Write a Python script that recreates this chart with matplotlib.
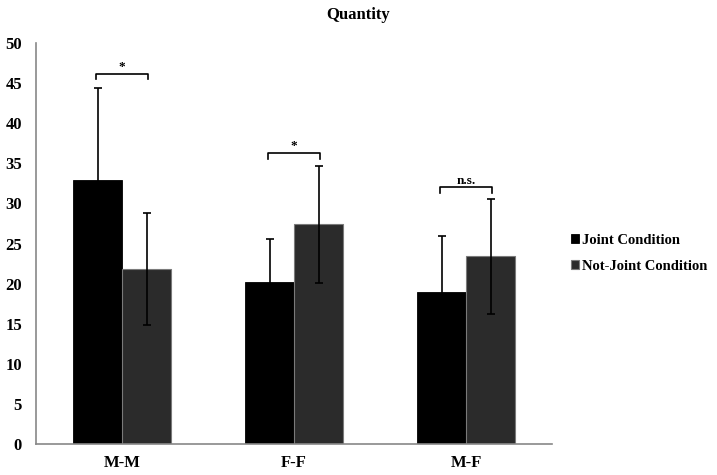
import matplotlib.pyplot as plt
import numpy as np

plt.rcParams['font.family'] = ['Liberation Serif', 'DejaVu Serif']
plt.rcParams['font.weight'] = 'bold'

# data
groups = ['M-M', 'F-F', 'M-F']
joint = [32.9, 20.2, 18.95]
joint_err = [11.5, 5.4, 7.0]
not_joint = [21.8, 27.4, 23.4]
not_joint_err = [7.0, 7.3, 7.2]
signif = ['*', '*', 'n.s.']
bracket_y = [46.2, 36.3, 32.0]

fig = plt.figure(figsize=(7.17, 4.75), dpi=100)
ax = fig.add_axes([0.0502, 0.0653, 0.720, 0.844])

x = np.arange(len(groups))
w = 0.285

ax.bar(x - w / 2, joint, w, color='black', edgecolor='black', linewidth=0.6,
       label='Joint Condition', zorder=2)
ax.bar(x + w / 2, not_joint, w, color='#2b2b2b', edgecolor='#7a7a7a', linewidth=0.8,
       label='Not-Joint Condition', zorder=2)
ax.errorbar(x - w / 2, joint, yerr=joint_err, fmt='none', ecolor='black',
            elinewidth=1.2, capsize=3, capthick=1.2, zorder=3)
ax.errorbar(x + w / 2, not_joint, yerr=not_joint_err, fmt='none', ecolor='black',
            elinewidth=1.2, capsize=3, capthick=1.2, zorder=3)

# significance brackets
for i in range(len(groups)):
    x0 = x[i] - w / 2 - 0.01
    x1 = x[i] + w / 2 + 0.01
    y = bracket_y[i]
    ax.plot([x0, x0, x1, x1], [y - 0.7, y, y, y - 0.7], color='black', lw=1.2, zorder=3)
    ax.text((x0 + x1) / 2, y + 0.1, signif[i], ha='center', va='bottom',
            fontsize=9.5, fontweight='bold')

ax.set_xlim(-0.5, 2.5)
ax.set_ylim(0, 50)
ax.set_yticks(range(0, 51, 5))
ax.set_xticks(x)
ax.set_xticklabels(groups, fontsize=12, fontweight='bold')
ax.tick_params(axis='y', length=0, labelsize=12, pad=10)
ax.tick_params(axis='x', length=0, pad=8)
for s in ['top', 'right']:
    ax.spines[s].set_visible(False)
ax.spines['left'].set_color('#888888')
ax.spines['bottom'].set_color('#888888')
ax.spines['left'].set_linewidth(1.2)
ax.spines['bottom'].set_linewidth(1.2)

fig.suptitle('Quantity', x=0.5, y=0.985, fontsize=12, fontweight='bold')

ax.legend(loc='center left', bbox_to_anchor=(1.01, 0.476), frameon=False,
          fontsize=10.5, handlelength=0.6, handleheight=0.6, handletextpad=0.2,
          labelspacing=0.9)

fig.savefig('out.png', dpi=100)
